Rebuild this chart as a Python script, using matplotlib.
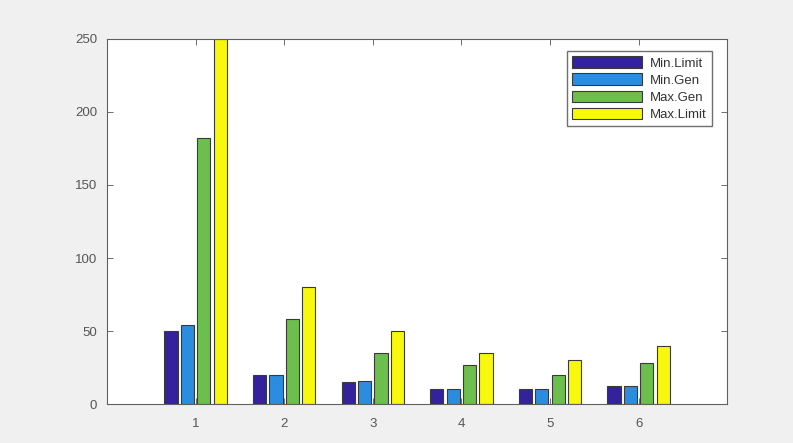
import numpy as np
import matplotlib
matplotlib.use("Agg")
import matplotlib.pyplot as plt

plt.rcParams['font.family'] = ['Liberation Sans', 'DejaVu Sans']

# data
groups = [1, 2, 3, 4, 5, 6]
min_limit = [50, 20, 15, 10, 10, 12]
min_gen = [54, 20, 16, 10, 10, 12.5]
max_gen = [182, 58, 35, 27, 20, 28]
max_limit = [250, 80, 50, 35, 30, 40]
series_names = ['Min.Limit', 'Min.Gen', 'Max.Gen', 'Max.Limit']
colors = ['#34229c', '#2a8de0', '#6cbf4c', '#f8f80c']

fig = plt.figure(figsize=(7.93, 4.43), dpi=100, facecolor='#f0f0f0')
ax = fig.add_axes([0.135, 0.088, 0.782, 0.824])
ax.set_facecolor('white')

x = np.array(groups)
width = 0.15
step = 0.185
all_series = [min_limit, min_gen, max_gen, max_limit]
for i, (vals, name, col) in enumerate(zip(all_series, series_names, colors)):
    ax.bar(x + (i - 1.5) * step, vals, width, color=col, edgecolor='#3a3a3a',
           linewidth=0.8, label=name)

ax.set_xlim(0, 7)
ax.set_ylim(0, 250)
ax.set_xticks(groups)
ax.set_yticks(range(0, 251, 50))
ax.tick_params(direction='in', length=4, width=0.6, top=True, right=True,
               labelsize=9.5, colors='#555555')
ax.tick_params(axis='x', pad=10)
ax.tick_params(axis='y', pad=7)
for sp in ax.spines.values():
    sp.set_color('#606060')
    sp.set_linewidth(0.8)

leg = ax.legend(loc='upper right', fontsize=9.5, handlelength=5.3, handleheight=1.0,
                labelspacing=0.28, borderpad=0.4, handletextpad=0.6,
                borderaxespad=0, fancybox=False, framealpha=1,
                edgecolor='#707070', bbox_to_anchor=(0.976, 0.967))
for t in leg.get_texts():
    t.set_color('#333333')

fig.savefig('out.png', dpi=100, facecolor=fig.get_facecolor())
